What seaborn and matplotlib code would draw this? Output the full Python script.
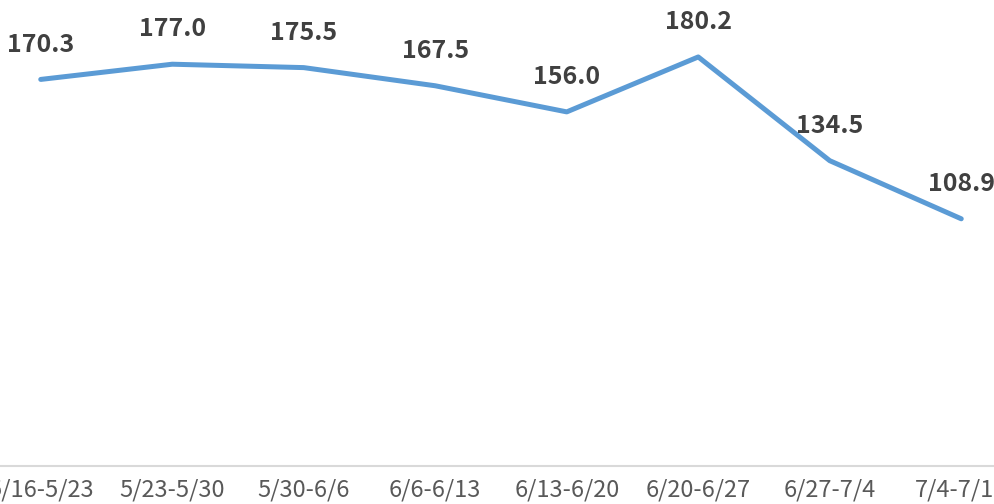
import matplotlib
matplotlib.use("Agg")
import matplotlib.pyplot as plt
import seaborn as sns
import pandas as pd

# weekly ranges and values
weeks = ["5/16-5/23", "5/23-5/30", "5/30-6/6", "6/6-6/13",
         "6/13-6/20", "6/20-6/27", "6/27-7/4", "7/4-7/11"]
values = [170.3, 177.0, 175.5, 167.5, 156.0, 180.2, 134.5, 108.9]

df = pd.DataFrame({"week": weeks, "value": values})

sns.set_theme(style="white")
plt.rcParams['font.family'] = ['Noto Sans CJK SC', 'DejaVu Sans']

fig = plt.figure(figsize=(9.94, 5.04), dpi=100)
# axes extends past the figure edges, so the outer tick labels get clipped
ax = fig.add_axes([-25 / 994, 38 / 504, 1052 / 994, 454 / 504])

sns.lineplot(data=df, x="week", y="value", ax=ax, color="#5B9BD5",
             linewidth=3.6, sort=False)

for i, v in enumerate(values):
    ax.annotate(f"{v:.1f}", (i, v), xytext=(0, 25), textcoords="offset points",
                ha="center", va="center", fontsize=18, color="#404040",
                fontweight="bold")

ax.set_xlim(-0.5, len(weeks) - 0.5)
ax.set_ylim(0, 200)
ax.set_xlabel("")
ax.set_ylabel("")
ax.set_yticks([])
ax.tick_params(axis="x", length=0, pad=9, labelsize=17, labelcolor="#595959")

for side in ["top", "left", "right"]:
    ax.spines[side].set_visible(False)
ax.spines["bottom"].set_color("#D9D9D9")
ax.spines["bottom"].set_linewidth(1.5)

fig.savefig("out.png", dpi=100)
